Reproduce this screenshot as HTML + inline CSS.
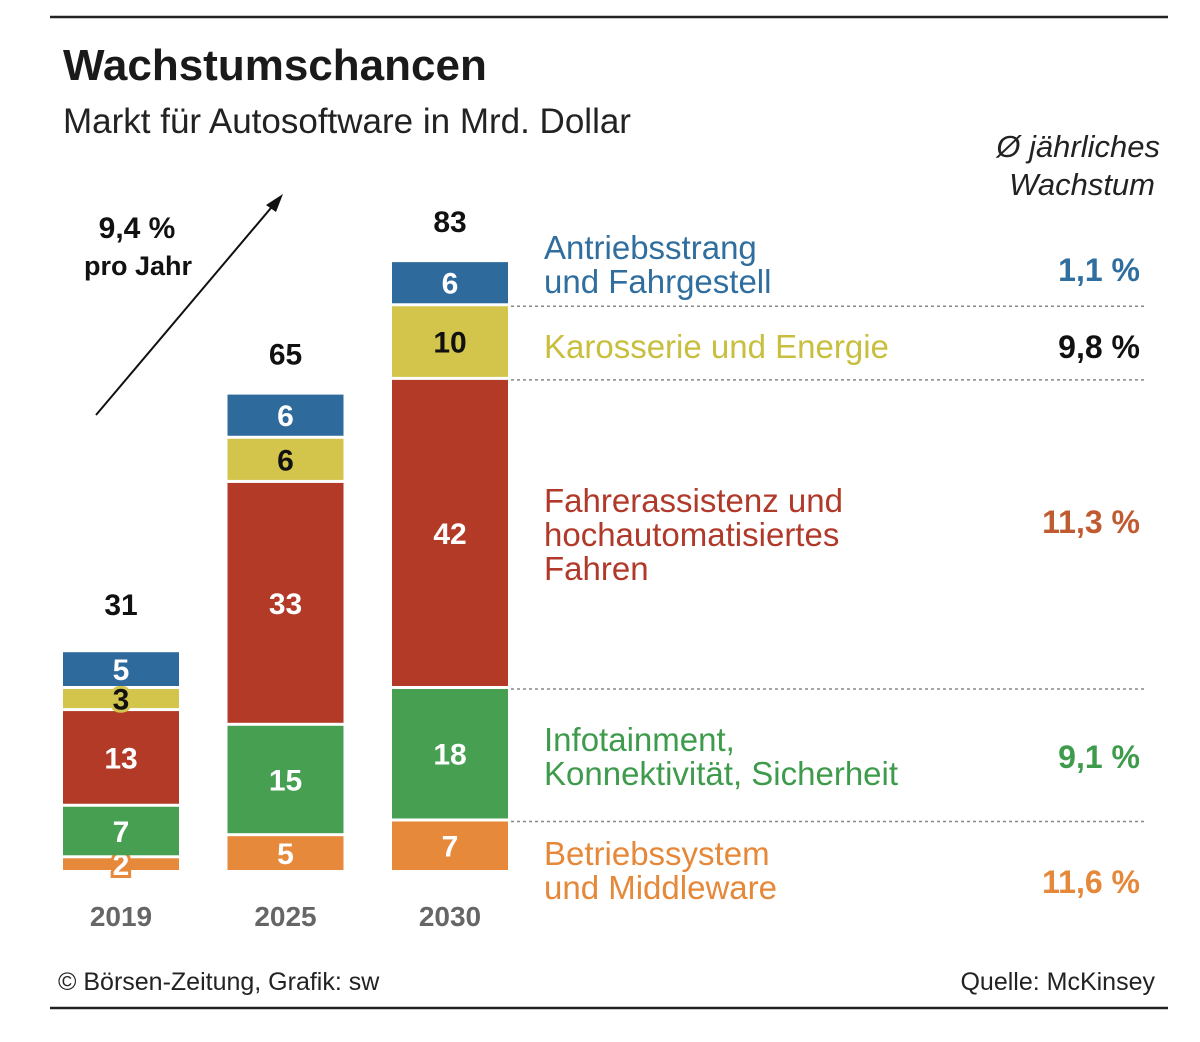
<!DOCTYPE html>
<html><head><meta charset="utf-8"><style>
body{margin:0;background:#fff;width:1200px;height:1037px;overflow:hidden;font-family:"Liberation Sans",sans-serif}
svg text{font-family:"Liberation Sans",sans-serif}
</style></head><body>
<svg id="c" width="1200" height="1037">
<line x1="50" y1="17" x2="1168" y2="17" stroke="#222" stroke-width="2.5"/>
<line x1="50" y1="1008" x2="1168" y2="1008" stroke="#222" stroke-width="2.5"/>
<text x="63" y="80" font-size="44" font-weight="bold" fill="#1a1a1a">Wachstumschancen</text>
<text x="63" y="133" font-size="35" fill="#222">Markt für Autosoftware in Mrd. Dollar</text>
<text x="1160" y="157" font-size="31" font-style="italic" fill="#222" text-anchor="end">Ø jährliches</text>
<text x="1155" y="195" font-size="31" font-style="italic" fill="#222" text-anchor="end">Wachstum</text>
<line x1="96" y1="415" x2="276" y2="202" stroke="#111" stroke-width="2"/>
<polygon points="283,194 266,205 276,212" fill="#111"/>
<text x="137" y="238" font-size="30" font-weight="bold" fill="#111" text-anchor="middle">9,4 %</text>
<text x="138" y="275" font-size="27" font-weight="bold" fill="#111" text-anchor="middle">pro Jahr</text>
<text x="58" y="990" font-size="25" fill="#222">© Börsen-Zeitung, Grafik: sw</text>
<text x="1155" y="990" font-size="25" fill="#222" text-anchor="end">Quelle: McKinsey</text>
<g id="bars"></g>
</svg>
<script>
const years=["2019","2025","2030"];
const orange=[2,5,7];
const green=[7,15,18];
const red=[13,33,42];
const yellow=[3,6,10];
const blue=[5,6,6];
const totals=[31,65,83];
const segNames=["betriebssystem","infotainment","fahrerassistenz","karosserie","antriebsstrang"];
const growth=["11,6 %","9,1 %","11,3 %","9,8 %","1,1 %"];
const legendLines=[["Betriebssystem","und Middleware"],["Infotainment,","Konnektivität, Sicherheit"],["Fahrerassistenz und","hochautomatisiertes","Fahren"],["Karosserie und Energie"],["Antriebsstrang","und Fahrgestell"]];
const series=[orange,green,red,yellow,blue];
const fills=["#e6893b","#47a052","#b23a27","#d3c44b","#2e6a9b"];
const txtCol=["#e5883a","#3f9b4c","#b0392a","#c8bf3f","#2f6e9e"];
const growthCol=["#e5883a","#3f9b4c","#c05a30","#111","#2f6e9e"];
const legendMid=[871,757,535,347,265];
const growthMid=[882,757,522,347,270];
const base=873,k=7.36,bx0=63,bw=116,bstep=164.5;
const NS="http://www.w3.org/2000/svg";
const g=document.getElementById("bars");
function mk(t,a,txt){const e=document.createElementNS(NS,t);for(const x in a)e.setAttribute(x,a[x]);if(txt!=null)e.textContent=txt;g.appendChild(e);return e;}
const yv=v=>base-v*k;
years.forEach((yr,i)=>{
  const x=bx0+i*bstep;let cum=0;
  series.forEach((s,j)=>{
    const v=s[i];const top=yv(cum+v),bot=yv(cum);
    const r=mk("rect",{x:x,y:top,width:bw,height:Math.max(1,bot-top-3),fill:fills[j]});
    
    
    const small=(bot-top)<30;
    const t=mk("text",{x:x+bw/2,y:(top+bot-3)/2+11,"font-size":30,"font-weight":"bold","text-anchor":"middle",fill:j==3?"#111":"#fff"},String(v));
    if(small){t.setAttribute("stroke",fills[j]);t.setAttribute("stroke-width","6");t.setAttribute("paint-order","stroke");}
    
    
    cum+=v;
  });
  const tt=mk("text",{x:x+bw/2,y:yv(totals[i])-30,"font-size":30,"font-weight":"bold","text-anchor":"middle",fill:"#111"},String(totals[i]));
  
  
  const yl=mk("text",{x:x+bw/2,y:926,"font-size":28,"font-weight":"bold","text-anchor":"middle",fill:"#666"},yr);
  
  
});
let cum=0;const last=years.length-1;
series.forEach((s,j)=>{
  const v=s[last];const top=yv(cum+v);
  const lines=legendLines[j];const lh=34;const mid=legendMid[j];
  const start=mid-(lines.length-1)*lh/2+11;
  lines.forEach((ln,li)=>{
    const t=mk("text",{x:544,y:start+li*lh,"font-size":33,fill:txtCol[j]},ln);
    
    
  });
  const gt=mk("text",{x:1140,y:growthMid[j]+11,"font-size":32,"font-weight":"bold","text-anchor":"end",fill:growthCol[j]},growth[j]);
  
  
  if(j<series.length-1){
    const l=mk("line",{x1:511,x2:1145,y1:top,y2:top,stroke:"#888","stroke-width":1.5,"stroke-dasharray":"3,3"});
    
    
  }
  cum+=v;
});
</script>
</body></html>
